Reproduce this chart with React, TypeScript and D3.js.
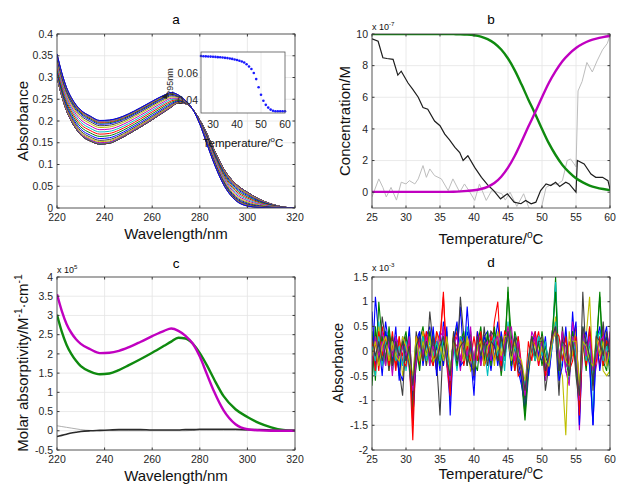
import * as d3 from "d3";
import { useEffect, useRef } from "react";

const FONT = "'Liberation Sans', Arial, sans-serif";
const lineColors = ["#0000ff", "#008000", "#ff0000", "#00bfbf", "#bf00bf", "#bfbf00", "#404040"];

// spectra (panel c), in units of 1e5 M^-1 cm^-1
const wavelengths = [220, 222, 224, 226, 228, 230, 234, 238, 242, 246, 250, 255, 260, 265, 268, 271, 274, 277, 280, 283, 286, 290, 295, 300, 305, 310, 315, 320];
const epsUnfolded = [3.55, 3.12, 2.78, 2.55, 2.38, 2.26, 2.12, 2.02, 2.03, 2.08, 2.17, 2.31, 2.46, 2.6, 2.66, 2.6, 2.47, 2.27, 1.93, 1.47, 1.02, 0.53, 0.17, 0.04, 0.01, 0, 0, 0];
const epsFolded = [3.02, 2.58, 2.24, 2.0, 1.82, 1.68, 1.54, 1.47, 1.49, 1.58, 1.7, 1.86, 2.03, 2.21, 2.32, 2.42, 2.4, 2.27, 2.02, 1.7, 1.34, 0.9, 0.56, 0.36, 0.2, 0.09, 0.02, 0];
const epsThird = [-0.15, -0.12, -0.09, -0.06, -0.04, -0.02, 0, 0.01, 0.02, 0.03, 0.03, 0.03, 0.02, 0.02, 0.02, 0.02, 0.03, 0.03, 0.04, 0.04, 0.04, 0.04, 0.04, 0.03, 0.03, 0.02, 0.01, 0.01];
const epsFourth = [0.13, 0.11, 0.09, 0.07, 0.05, 0.03, 0.01, 0, 0, 0, 0, 0, 0, 0, 0, 0, 0, 0.01, 0.01, 0.01, 0.01, 0.01, 0.01, 0.01, 0.01, 0, 0, 0];

// concentrations (panel b), x1e-7 M
const temps = [25, 26, 27, 28, 29, 30, 31, 32, 33, 34, 35, 36, 37, 38, 39, 40, 41, 42, 43, 44, 45, 46, 47, 48, 49, 50, 51, 52, 53, 54, 55, 56, 57, 58, 59, 60];
const concFolded = [10, 10, 10, 10, 10, 10, 10, 10, 10, 10, 10, 10, 9.99, 9.98, 9.96, 9.92, 9.84, 9.68, 9.42, 9.02, 8.45, 7.7, 6.8, 5.85, 4.95, 4.0, 3.1, 2.35, 1.72, 1.25, 0.88, 0.62, 0.42, 0.29, 0.2, 0.13];
const concUnfolded = [0.02, 0.02, 0.02, 0.02, 0.02, 0.02, 0.02, 0.02, 0.02, 0.02, 0.02, 0.02, 0.03, 0.05, 0.08, 0.12, 0.2, 0.34, 0.58, 0.98, 1.55, 2.3, 3.2, 4.15, 5.05, 6.0, 6.9, 7.65, 8.28, 8.75, 9.12, 9.38, 9.58, 9.71, 9.8, 9.87];
const darkT = [25, 25.9, 26.6, 27.2, 28.1, 28.8, 29.3, 30.3, 31.0, 31.8, 32.5, 33.2, 34.2, 35.0, 35.7, 36.4, 37.2, 37.9, 38.4, 39.1, 40.1, 41.1, 42.1, 42.9, 43.9, 44.9, 45.9, 46.9, 47.6, 48.4, 49.1, 49.8, 50.6, 51.3, 52.0, 52.6, 53.5, 54.0, 55.0, 55.2, 56.2, 57.2, 57.9, 58.9, 59.7, 60];
const darkC = [9.7, 9.54, 8.5, 8.45, 8.4, 7.4, 7.65, 6.9, 6.5, 6.0, 5.35, 5.25, 4.5, 4.2, 3.67, 3.3, 2.83, 2.5, 2.0, 2.3, 1.57, 0.94, 0.42, 0.1, -0.42, -0.1, -0.63, -0.73, -0.52, -0.73, -0.63, 0.1, 0.52, 0.42, 0.63, 0.36, 0.63, 0.52, 0.0, 2.0, 1.78, 1.15, 0.94, 0.94, 0.73, 0.2];
const lightT = [25, 26, 26.6, 27.1, 27.8, 28.6, 29.3, 30.0, 30.5, 31.3, 31.8, 32.5, 33.0, 33.5, 34.2, 35.2, 36.2, 36.9, 37.9, 38.6, 39.4, 40.1, 40.8, 41.8, 42.6, 43.4, 44.1, 44.6, 45.3, 46.3, 47.3, 48.0, 48.6, 49.2, 49.8, 50.6, 51.5, 52.3, 53.0, 53.7, 54.2, 54.7, 55.0, 55.3, 55.9, 56.6, 57.4, 58.1, 58.9, 59.6, 60];
const lightC = [-0.3, 0.84, 0.3, -0.3, 0.3, -0.5, 0.63, 0.52, 0.73, 0.52, 0.84, 1.68, 0.94, 1.47, 1.05, 0.84, 0.1, 0.84, 0.0, 0.52, 0.0, -0.52, 0.52, -0.52, 0.1, 0.0, -0.1, -0.5, 0.0, -0.9, -0.1, -0.9, -1.4, -1.6, -1.2, 0.3, 0.52, 0.5, 0.73, 2.0, 2.1, 1.8, 1.6, 6.4, 7.0, 8.2, 7.6, 8.3, 9.0, 9.4, 9.9];

// inset of panel a: absorbance at 295 nm
const a295 = [0.0725, 0.0724, 0.0723, 0.0722, 0.0721, 0.072, 0.0719, 0.0717, 0.0716, 0.0714, 0.0712, 0.071, 0.0707, 0.0704, 0.07, 0.0696, 0.0691, 0.0685, 0.0677, 0.0665, 0.0648, 0.063, 0.06, 0.0555, 0.0495, 0.044, 0.0395, 0.0365, 0.0345, 0.033, 0.0322, 0.0318, 0.0318, 0.0318, 0.0318, 0.0318];

// residuals (panel d), temperature every 0.5 C, values in 1e-4
const residT = [25, 25.5, 26, 26.5, 27, 27.5, 28, 28.5, 29, 29.5, 30, 30.5, 31, 31.5, 32, 32.5, 33, 33.5, 34, 34.5, 35, 35.5, 36, 36.5, 37, 37.5, 38, 38.5, 39, 39.5, 40, 40.5, 41, 41.5, 42, 42.5, 43, 43.5, 44, 44.5, 45, 45.5, 46, 46.5, 47, 47.5, 48, 48.5, 49, 49.5, 50, 50.5, 51, 51.5, 52, 52.5, 53, 53.5, 54, 54.5, 55, 55.5, 56, 56.5, 57, 57.5, 58, 58.5, 59, 59.5, 60];
const residuals = [
  "-5 11 3 -2 6 1 -3 2 -4 -6 1 -3 -9 2 4 -1 3 5 -2 1 -4 6 2 -8 3 -1 9 -2 4 1 -6 2 -1 3 4 -2 1 6 -3 2 5 -2 1 -4 -7 -11 -3 2 4 -1 2 -3 -5 1 6 -2 3 -4 -6 8 -2 -13 4 1 -3 -15 2 5 -1 3 -2",
  "4 -6 10 2 -3 5 -1 3 -5 2 -2 4 -10 -3 2 5 -1 3 1 -4 3 -2 4 -6 2 5 -3 1 -2 4 -3 1 5 -2 3 -1 4 2 -5 1 12 3 -4 2 -6 -14 -5 1 3 -2 4 -1 -3 2 15 -4 1 3 -5 2 3 -8 2 -4 5 -3 1 12 -2 -4 3",
  "-3 2 -4 5 1 -2 4 -3 2 -1 3 -2 -18 1 -3 4 2 -1 3 -4 2 12 -3 -5 1 4 -2 3 1 -3 -2 4 1 -3 2 -1 6 10 -2 3 4 -3 2 -5 -4 -10 -2 3 1 4 -1 2 -4 3 6 -2 4 -3 2 -1 5 -10 3 -2 4 -6 2 -3 4 -1 2",
  "2 -5 6 -2 4 3 -4 1 -3 2 -4 1 -8 3 -2 2 1 -3 4 -1 -3 4 2 -6 1 -4 3 -2 5 2 -4 3 -2 1 -5 2 -1 3 2 -4 6 -2 3 -1 -3 -11 -4 2 -1 3 2 -4 -3 1 14 -5 -2 4 -6 3 -3 -12 5 -2 3 -14 4 2 -3 1 -1",
  "-4 3 -2 4 -1 2 -5 3 1 -3 2 -4 -11 -2 3 -1 4 -3 2 3 -2 5 -3 -10 2 1 -4 3 -2 5 -5 2 3 -1 2 4 -2 3 -4 2 3 5 -2 3 -5 -12 -3 4 2 -3 1 -6 -2 4 5 -3 2 -4 -7 6 2 -16 3 -1 4 -7 -3 2 5 -2 4",
  "3 -2 5 -3 2 -4 1 -2 3 -5 -1 3 -7 2 -2 4 -3 1 -2 4 1 -3 2 -5 4 -2 3 -1 2 -4 -3 1 -2 3 -2 3 -3 4 -1 2 5 -1 2 -3 -4 -9 -2 3 -2 1 3 -2 -4 2 7 -3 -5 -17 4 -1 4 -9 2 3 11 -4 -2 3 -4 -5 -4",
  "-6 4 -3 7 2 -4 3 -1 -4 -9 3 -2 -9 4 -1 2 -3 8 1 -2 -13 3 1 -7 4 -2 11 3 -1 -3 -4 2 -3 5 -2 4 3 -1 -4 3 2 -3 1 -4 -5 -10 -3 1 -2 2 3 -8 -3 4 3 -9 5 -2 -3 4 -5 -11 12 -2 4 -8 3 -1 6 -3 2",
  "8 -3 2 -5 4 1 -2 5 -6 3 -2 5 -14 -1 4 -3 2 -2 5 -5 4 -3 5 -13 2 6 -3 -2 9 -1 -9 4 -2 3 1 -4 2 -3 4 -1 4 -4 3 -2 -6 -12 -4 2 3 -1 -2 3 -5 2 5 -6 -3 5 -4 2 6 -15 2 4 -2 -15 3 -4 2 5 -3",
  "-7 5 -1 3 -2 4 -3 2 -2 1 4 -3 -12 1 -4 3 -2 4 -3 2 -3 2 -1 -5 3 -3 2 4 -3 3 -2 -4 3 -2 4 -3 5 -2 3 -2 13 -3 4 1 -4 -13 -2 3 -1 2 -3 1 -2 3 12 -4 3 -2 -5 4 -2 -11 4 -3 2 -6 1 11 -3 2 -5",
  "2 -4 4 -1 3 -3 2 -4 3 -2 -3 2 -15 3 1 -2 4 -1 -3 4 2 11 -2 -9 3 -1 3 -3 1 -2 3 -2 4 -3 -1 3 -2 2 -3 4 3 2 -4 3 -3 -8 2 -2 4 -3 2 -5 -1 3 4 3 -2 3 -4 -2 3 -13 2 -3 5 -4 -2 3 -3 2 1",
  "1 -2 3 -3 2 -1 2 -2 1 -3 2 -1 -6 2 -1 3 -2 2 -1 2 -2 3 -1 -4 2 -2 3 1 -2 2 -3 2 -1 2 -2 1 3 -1 2 -2 4 -2 1 -2 -3 -7 -1 2 -2 3 -1 2 -3 1 6 -3 2 -2 -4 3 -1 -8 3 -2 2 -5 2 4 -2 1 -2",
  "-2 3 -1 2 -3 2 -1 3 -2 1 -1 3 -8 -2 2 -1 3 -2 1 -2 3 4 -2 -6 1 3 -2 2 -1 3 -2 3 -3 1 2 -2 2 3 -2 1 5 1 -2 2 -4 -9 -2 1 3 -2 2 -3 -2 2 5 -2 4 -3 -3 3 1 -10 4 -1 3 -4 -1 2 3 -3 2",
  "-1 2 -3 1 3 -2 2 -1 -2 3 1 -2 -5 3 -2 2 -1 3 -2 -1 2 -2 3 -4 2 -1 2 -2 3 -1 -4 1 2 -3 1 2 -2 1 -1 3 3 -2 2 -1 -2 -6 -3 2 1 -2 1 -2 -3 2 4 -3 1 -2 -3 2 2 -7 2 1 -2 -3 3 -1 2 -3 1",
  "3 -1 2 -2 1 3 -3 2 -1 2 -2 1 -7 1 3 -2 2 -1 3 -2 1 3 -2 -5 3 -2 1 2 -3 2 -5 3 -1 2 -3 2 1 -2 3 -1 4 -1 3 -2 -3 -8 -2 3 -1 2 2 -4 -1 3 5 -4 2 1 -5 2 -3 -9 5 2 -1 -6 3 2 -1 4 -1",
];

type Sel = d3.Selection<SVGGElement, unknown, null, undefined>;

function addLabel(parent: any, parts: [string, boolean][], size: number) {
  const t = parent.append("text").attr("font-size", size).attr("fill", "#111");
  let up = false;
  parts.forEach(([s, sup]) => {
    const sp = t.append("tspan").text(s);
    if (sup && !up) { sp.attr("dy", -size * 0.42).attr("font-size", size * 0.68); up = true; }
    else if (!sup && up) { sp.attr("dy", size * 0.42); up = false; }
  });
  return t;
}

function makeAxes(svg: any, left: number, top: number, w: number, h: number, x: any, y: any, xTicks: number[], yTicks: number[], id: string, fs = 10.5) {
  const g: Sel = svg.append("g").attr("transform", `translate(${left},${top})`);
  g.append("rect").attr("width", w).attr("height", h).attr("fill", "#fff");
  g.selectAll(".gx").data(xTicks).join("line")
    .attr("x1", d => x(d)).attr("x2", d => x(d)).attr("y1", 0).attr("y2", h)
    .attr("stroke", "#e4e4e4").attr("stroke-width", 0.8);
  g.selectAll(".gy").data(yTicks).join("line")
    .attr("y1", d => y(d)).attr("y2", d => y(d)).attr("x1", 0).attr("x2", w)
    .attr("stroke", "#e4e4e4").attr("stroke-width", 0.8);
  g.append("clipPath").attr("id", id).append("rect").attr("width", w).attr("height", h);
  const plot = g.append("g").attr("clip-path", `url(#${id})`);
  const finish = () => {
    g.append("rect").attr("width", w).attr("height", h).attr("fill", "none").attr("stroke", "#3a3a3a").attr("stroke-width", 0.8);
    xTicks.forEach(d => {
      g.append("line").attr("x1", x(d)).attr("x2", x(d)).attr("y1", h).attr("y2", h - 2.5).attr("stroke", "#3a3a3a");
      g.append("line").attr("x1", x(d)).attr("x2", x(d)).attr("y1", 0).attr("y2", 2.5).attr("stroke", "#3a3a3a");
    });
    yTicks.forEach(d => {
      g.append("line").attr("y1", y(d)).attr("y2", y(d)).attr("x1", 0).attr("x2", 2.5).attr("stroke", "#3a3a3a");
      g.append("line").attr("y1", y(d)).attr("y2", y(d)).attr("x1", w).attr("x2", w - 2.5).attr("stroke", "#3a3a3a");
    });
    g.selectAll(".xl").data(xTicks).join("text")
      .attr("x", d => x(d)).attr("y", h + fs + 2.5).attr("text-anchor", "middle")
      .attr("font-size", fs).attr("fill", "#262626").text(d => String(d));
    g.selectAll(".yl").data(yTicks).join("text")
      .attr("x", -4).attr("y", d => y(d)).attr("dy", "0.35em").attr("text-anchor", "end")
      .attr("font-size", fs).attr("fill", "#262626").text(d => String(+d.toFixed(3)));
  };
  return { g, plot, finish };
}

export default function App() {
  const ref = useRef<SVGSVGElement>(null);

  useEffect(() => {
    const svg = d3.select(ref.current);
    svg.selectAll("*").remove();
    svg.append("rect").attr("width", 617).attr("height", 486).attr("fill", "#fff");

    const W = 238;

    // ---------- panel a
    {
      const x = d3.scaleLinear().domain([220, 320]).range([0, W]);
      const y = d3.scaleLinear().domain([0, 0.4]).range([174, 0]);
      const ax = makeAxes(svg, 57, 34, W, 174, x, y, [220, 240, 260, 280, 300, 320], [0, 0.05, 0.1, 0.15, 0.2, 0.25, 0.3, 0.35, 0.4], "clipA");
      const line = d3.line<number>().x((_, i) => x(wavelengths[i])).y(d => y(d)).curve(d3.curveMonotoneX);
      concUnfolded.forEach((cu, k) => {
        const f = cu / 10;
        const vals = wavelengths.map((_, i) => 0.1 * (f * epsUnfolded[i] + (1 - f) * epsFolded[i]));
        ax.plot.append("path").attr("d", line(vals)).attr("fill", "none")
          .attr("stroke", lineColors[k % 7]).attr("stroke-width", 1);
      });
      ax.finish();

      // annotation
      ax.g.append("path").attr("d", "M104,63 L111,59 L110,65 Z").attr("fill", "#222");
      ax.g.append("text").attr("transform", "translate(116,48) rotate(-90)").attr("text-anchor", "middle")
        .attr("font-size", 9).attr("fill", "#222").text("295nm");

      // inset
      const ix = d3.scaleLinear().domain([25, 60]).range([0, 84]);
      const iy = d3.scaleLinear().domain([0.0305, 0.0755]).range([61, 0]);
      const ins = ax.g.append("g").attr("transform", "translate(144,18)");
      ins.append("rect").attr("width", 84).attr("height", 61).attr("fill", "#fff");
      [30, 40, 50].forEach(d => ins.append("line").attr("x1", ix(d)).attr("x2", ix(d)).attr("y1", 0).attr("y2", 61).attr("stroke", "#ececec"));
      ins.selectAll("circle").data(a295).join("circle")
        .attr("cx", (_, i) => ix(temps[i])).attr("cy", d => iy(d)).attr("r", 1.3).attr("fill", "#1a1aff");
      ins.append("rect").attr("width", 84).attr("height", 61).attr("fill", "none").attr("stroke", "#555").attr("stroke-width", 0.8);
      [30, 40, 50, 60].forEach(d => ins.append("text").attr("x", ix(d)).attr("y", 76).attr("text-anchor", "middle").attr("font-size", 10.5).attr("fill", "#262626").text(d));
      [0.04, 0.06].forEach(d => ins.append("text").attr("x", -3).attr("y", iy(d)).attr("dy", "0.35em").attr("text-anchor", "end").attr("font-size", 10.5).attr("fill", "#262626").text(d));
      addLabel(ins, [["Temperature/", false], ["o", true], ["C", false]], 11.5)
        .attr("x", 42).attr("y", 95).attr("text-anchor", "middle");

      svg.append("text").attr("x", 176).attr("y", 24).attr("text-anchor", "middle").attr("font-size", 13.5).text("a");
      addLabel(svg, [["Wavelength/nm", false]], 15).attr("x", 176).attr("y", 239).attr("text-anchor", "middle");
      addLabel(svg, [["Absorbance", false]], 15).attr("transform", "translate(28,121) rotate(-90)").attr("text-anchor", "middle");
    }

    // ---------- panel b
    {
      const x = d3.scaleLinear().domain([25, 60]).range([0, W]);
      const y = d3.scaleLinear().domain([-1, 10]).range([174, 0]);
      const ax = makeAxes(svg, 372, 34, W, 174, x, y, [25, 30, 35, 40, 45, 50, 55, 60], [0, 2, 4, 6, 8, 10], "clipB");
      const mk = (xs: number[], curve: any) => d3.line<number>().x((_, i) => x(xs[i])).y(d => y(d)).curve(curve);
      ax.plot.append("path").attr("d", mk(lightT, d3.curveLinear)(lightC)).attr("fill", "none").attr("stroke", "#bdbdbd").attr("stroke-width", 1);
      ax.plot.append("path").attr("d", mk(darkT, d3.curveLinear)(darkC)).attr("fill", "none").attr("stroke", "#1e1e1e").attr("stroke-width", 1.2);
      ax.plot.append("path").attr("d", mk(temps, d3.curveMonotoneX)(concFolded)).attr("fill", "none").attr("stroke", "#0f8a0f").attr("stroke-width", 2.4);
      ax.plot.append("path").attr("d", mk(temps, d3.curveMonotoneX)(concUnfolded)).attr("fill", "none").attr("stroke", "#c000c0").attr("stroke-width", 2.4);
      ax.finish();

      svg.append("text").attr("x", 491).attr("y", 24).attr("text-anchor", "middle").attr("font-size", 13.5).text("b");
      addLabel(svg, [["x 10", false], ["-7", true]], 9).attr("x", 372).attr("y", 30);
      addLabel(svg, [["Temperature/", false], ["o", true], ["C", false]], 15).attr("x", 491).attr("y", 244).attr("text-anchor", "middle");
      addLabel(svg, [["Concentration/M", false]], 15).attr("transform", "translate(350,121) rotate(-90)").attr("text-anchor", "middle");
    }

    // ---------- panel c
    {
      const x = d3.scaleLinear().domain([220, 320]).range([0, W]);
      const y = d3.scaleLinear().domain([-0.5, 4]).range([173, 0]);
      const ax = makeAxes(svg, 57, 277, W, 173, x, y, [220, 240, 260, 280, 300, 320], [-0.5, 0, 0.5, 1, 1.5, 2, 2.5, 3, 3.5, 4], "clipC");
      const line = d3.line<number>().x((_, i) => x(wavelengths[i])).y(d => y(d)).curve(d3.curveMonotoneX);
      ax.plot.append("path").attr("d", line(epsFourth)).attr("fill", "none").attr("stroke", "#9a9a9a").attr("stroke-width", 0.8);
      ax.plot.append("path").attr("d", line(epsThird)).attr("fill", "none").attr("stroke", "#2a2a2a").attr("stroke-width", 1.6);
      ax.plot.append("path").attr("d", line(epsFolded)).attr("fill", "none").attr("stroke", "#0f8a0f").attr("stroke-width", 2.4);
      ax.plot.append("path").attr("d", line(epsUnfolded)).attr("fill", "none").attr("stroke", "#c000c0").attr("stroke-width", 2.4);
      ax.finish();

      svg.append("text").attr("x", 176).attr("y", 268).attr("text-anchor", "middle").attr("font-size", 13.5).text("c");
      addLabel(svg, [["x 10", false], ["5", true]], 9).attr("x", 57).attr("y", 273);
      addLabel(svg, [["Wavelength/nm", false]], 15).attr("x", 176).attr("y", 481).attr("text-anchor", "middle");
      addLabel(svg, [["Molar absorptivity/M", false], ["-1", true], ["·cm", false], ["-1", true]], 15)
        .attr("transform", "translate(28,363) rotate(-90)").attr("text-anchor", "middle");
    }

    // ---------- panel d
    {
      const x = d3.scaleLinear().domain([25, 60]).range([0, W]);
      const y = d3.scaleLinear().domain([-2, 1.5]).range([173, 0]);
      const ax = makeAxes(svg, 372, 277, W, 173, x, y, [25, 30, 35, 40, 45, 50, 55, 60], [-2, -1.5, -1, -0.5, 0, 0.5, 1, 1.5], "clipD");
      const line = d3.line<number>().x((_, i) => x(residT[i])).y(d => y(d));
      residuals.forEach((s, k) => {
        const vals = s.trim().split(/\s+/).map(v => Number(v) / 10);
        ax.plot.append("path").attr("d", line(vals)).attr("fill", "none")
          .attr("stroke", lineColors[k % 7]).attr("stroke-width", 1.1);
      });
      ax.finish();

      svg.append("text").attr("x", 491).attr("y", 267).attr("text-anchor", "middle").attr("font-size", 13.5).text("d");
      addLabel(svg, [["x 10", false], ["-3", true]], 9).attr("x", 372).attr("y", 271);
      addLabel(svg, [["Temperature/", false], ["o", true], ["C", false]], 15).attr("x", 491).attr("y", 479).attr("text-anchor", "middle");
      addLabel(svg, [["Absorbance", false]], 15).attr("transform", "translate(343,363) rotate(-90)").attr("text-anchor", "middle");
    }
  }, []);

  return (
    <svg ref={ref} width={617} height={486} fontFamily={FONT}
      style={{ position: "absolute", left: 0, top: 0, display: "block" }} />
  );
}
